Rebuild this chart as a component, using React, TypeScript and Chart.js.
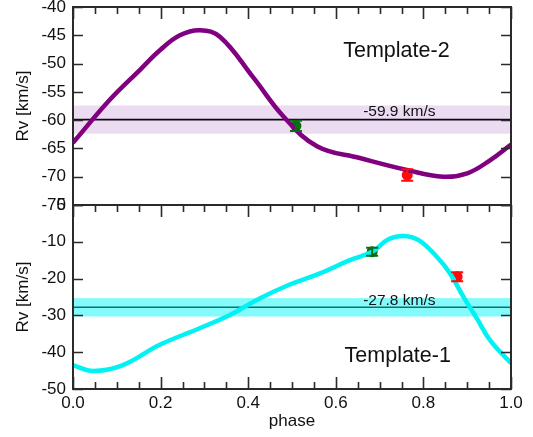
import { useEffect, useRef } from "react";
import { Chart, registerables } from "chart.js";

Chart.register(...registerables);

// Template-2 radial-velocity curve (upper panel)
const phaseT2 = [0, 0.084, 0.153, 0.199, 0.244, 0.29, 0.336, 0.411, 0.48, 0.557, 0.655, 0.762, 0.845, 0.9, 0.952, 1.0];
const rvT2 = [-64.0, -56.4, -51.1, -47.6, -45.0, -44.1, -45.3, -52.4, -59.3, -64.6, -66.7, -68.8, -70.0, -69.4, -67.1, -64.3];

// Template-1 radial-velocity curve (lower panel)
const phaseT1 = [0, 0.046, 0.114, 0.198, 0.289, 0.358, 0.426, 0.495, 0.564, 0.632, 0.683, 0.72, 0.755, 0.79, 0.83, 0.861, 0.891, 0.922, 0.952, 1.0];
const rvT1 = [-43.5, -45.1, -43.5, -38.0, -33.5, -29.9, -25.4, -21.6, -18.6, -15.0, -12.7, -9.3, -8.4, -9.6, -14.0, -18.6, -24.9, -30.8, -36.7, -43.0];

// Measured velocities with their uncertainties
const obsPhaseT2 = [0.509, 0.763];
const obsRvT2 = [-61.0, -69.7];
const obsErrT2 = [0.9, 1.0];
const obsPhaseT1 = [0.683, 0.877];
const obsRvT1 = [-12.7, -19.5];
const obsErrT1 = [1.1, 1.2];
const obsColors = ["#0c6e12", "#ff0a0a"];

// Systemic velocity and its spread for each template
const systemicRv = [-59.9, -27.8];
const systemicSpread = [2.5, 2.5];

const templateNames = ["Template-2", "Template-1"];

// Axis ticks
const phaseTicks = [0, 0.2, 0.4, 0.6, 0.8, 1.0];
const phaseMinorTicks = [0.05, 0.1, 0.15, 0.25, 0.3, 0.35, 0.45, 0.5, 0.55, 0.65, 0.7, 0.75, 0.85, 0.9, 0.95];
const rvTicksT2 = [-75, -70, -65, -60, -55, -50, -45, -40];
const rvTicksT1 = [-50, -40, -30, -20, -10, 0];

const FONT = '"Liberation Sans", Arial, Helvetica, sans-serif';
const INK = "#111111";
const FRAME = "#2a2a2a";

type Panel = {
  phase: number[];
  rv: number[];
  color: string;
  obsPhase: number[];
  obsRv: number[];
  obsErr: number[];
  mean: number;
  spread: number;
  bandColor: string;
  name: string;
  nameAt: [number, number];
  labelLift: number;
  yMin: number;
  yMax: number;
  yTicks: number[];
  showX: boolean;
  bottomTicks: boolean;
  pad: { top: number; bottom: number };
};

function decorPlugin(p: Panel) {
  return {
    id: "panelDecor",
    beforeDatasetsDraw(chart: any) {
      const { ctx, chartArea: a, scales } = chart;
      const x = scales.x;
      const y = scales.y;
      ctx.save();
      ctx.beginPath();
      ctx.rect(a.left, a.top, a.right - a.left, a.bottom - a.top);
      ctx.clip();
      const ym = y.getPixelForValue(p.mean);
      ctx.strokeStyle = "#000";
      ctx.lineWidth = 1.6;
      ctx.beginPath();
      ctx.moveTo(a.left, ym);
      ctx.lineTo(a.right, ym);
      ctx.stroke();
      const y1 = y.getPixelForValue(p.mean + p.spread);
      const y2 = y.getPixelForValue(p.mean - p.spread);
      ctx.fillStyle = p.bandColor;
      ctx.fillRect(a.left, y1, a.right - a.left, y2 - y1);
      ctx.fillStyle = INK;
      ctx.font = `15.5px ${FONT}`;
      ctx.textAlign = "center";
      ctx.textBaseline = "alphabetic";
      ctx.fillText(`${p.mean.toFixed(1)} km/s`, x.getPixelForValue(0.745), ym - p.labelLift);
      ctx.font = `21.5px ${FONT}`;
      ctx.textAlign = "left";
      ctx.fillText(p.name, x.getPixelForValue(p.nameAt[0]), y.getPixelForValue(p.nameAt[1]));
      ctx.restore();
    },
    afterDatasetsDraw(chart: any) {
      const { ctx, scales } = chart;
      const x = scales.x;
      const y = scales.y;
      ctx.save();
      ctx.lineWidth = 2;
      p.obsPhase.forEach((ph, i) => {
        const px = x.getPixelForValue(ph);
        const hi = y.getPixelForValue(p.obsRv[i] + p.obsErr[i]);
        const lo = y.getPixelForValue(p.obsRv[i] - p.obsErr[i]);
        ctx.strokeStyle = obsColors[i];
        ctx.beginPath();
        ctx.moveTo(px, hi);
        ctx.lineTo(px, lo);
        ctx.moveTo(px - 6, hi);
        ctx.lineTo(px + 6, hi);
        ctx.moveTo(px - 6, lo);
        ctx.lineTo(px + 6, lo);
        ctx.stroke();
      });
      ctx.restore();
    },
    afterDraw(chart: any) {
      const { ctx, chartArea: a, scales } = chart;
      const x = scales.x;
      const y = scales.y;
      ctx.save();
      ctx.strokeStyle = FRAME;
      ctx.lineWidth = 2;
      ctx.strokeRect(a.left, a.top, a.right - a.left, a.bottom - a.top);
      ctx.lineWidth = 1.6;
      ctx.beginPath();
      const xTick = (v: number, len: number) => {
        const px = Math.round(x.getPixelForValue(v)) + 0.5;
        ctx.moveTo(px, a.top);
        ctx.lineTo(px, a.top + len);
        if (p.bottomTicks) {
          ctx.moveTo(px, a.bottom);
          ctx.lineTo(px, a.bottom - len);
        }
      };
      phaseTicks.forEach((v) => xTick(v, 12));
      phaseMinorTicks.forEach((v) => xTick(v, 7));
      p.yTicks.forEach((v) => {
        const py = Math.round(y.getPixelForValue(v)) + 0.5;
        ctx.moveTo(a.left, py);
        ctx.lineTo(a.left + 10, py);
        ctx.moveTo(a.right, py);
        ctx.lineTo(a.right - 10, py);
      });
      ctx.stroke();
      ctx.restore();
    },
  };
}

function makeConfig(p: Panel): any {
  return {
    type: "scatter",
    data: {
      datasets: [
        {
          type: "line",
          data: p.phase.map((ph, i) => ({ x: ph, y: p.rv[i] })),
          borderColor: p.color,
          borderWidth: 4.5,
          pointRadius: 0,
          tension: 0.4,
          fill: false,
        },
        {
          type: "scatter",
          data: p.obsPhase.map((ph, i) => ({ x: ph, y: p.obsRv[i] })),
          pointRadius: 5.5,
          pointBackgroundColor: obsColors,
          pointBorderWidth: 0,
          showLine: false,
        },
      ],
    },
    options: {
      responsive: false,
      animation: false,
      events: [],
      layout: { padding: { top: p.pad.top, right: 22, bottom: p.pad.bottom, left: 0 } },
      plugins: { legend: { display: false }, tooltip: { enabled: false } },
      scales: {
        x: {
          type: "linear",
          min: 0,
          max: 1,
          display: p.showX,
          afterBuildTicks: (s: any) => {
            s.ticks = phaseTicks.map((v) => ({ value: v }));
          },
          afterFit: (s: any) => {
            if (p.showX) s.height = 48;
          },
          ticks: {
            font: { family: FONT, size: 17 },
            color: INK,
            padding: 4,
            maxRotation: 0,
            autoSkip: false,
            callback: (v: any) => Number(v).toFixed(1),
          },
          grid: { display: false, drawTicks: false },
          border: { display: false },
          title: {
            display: true,
            text: "phase",
            color: INK,
            font: { family: FONT, size: 17 },
            padding: { top: 0, bottom: 5 },
          },
        },
        y: {
          type: "linear",
          min: p.yMin,
          max: p.yMax,
          afterBuildTicks: (s: any) => {
            s.ticks = p.yTicks.map((v) => ({ value: v }));
          },
          afterFit: (s: any) => {
            s.width = 73;
          },
          ticks: {
            font: { family: FONT, size: 17 },
            color: INK,
            padding: 7,
            autoSkip: false,
          },
          grid: { display: false, drawTicks: false },
          border: { display: false },
          title: {
            display: true,
            text: "Rv [km/s]",
            color: INK,
            font: { family: FONT, size: 17 },
            padding: { top: 13, bottom: 0 },
          },
        },
      },
    },
    plugins: [decorPlugin(p)],
  };
}

const upper: Panel = {
  phase: phaseT2,
  rv: rvT2,
  color: "#800080",
  obsPhase: obsPhaseT2,
  obsRv: obsRvT2,
  obsErr: obsErrT2,
  mean: systemicRv[0],
  spread: systemicSpread[0],
  bandColor: "rgba(128,22,168,0.15)",
  name: templateNames[0],
  nameAt: [0.617, -48.8],
  labelLift: 3.5,
  yMin: -75,
  yMax: -40,
  yTicks: rvTicksT2,
  showX: false,
  bottomTicks: false,
  pad: { top: 20, bottom: 20 },
};

const lower: Panel = {
  phase: phaseT1,
  rv: rvT1,
  color: "#00f2f2",
  obsPhase: obsPhaseT1,
  obsRv: obsRvT1,
  obsErr: obsErrT1,
  mean: systemicRv[1],
  spread: systemicSpread[1],
  bandColor: "rgba(0,245,245,0.48)",
  name: templateNames[1],
  nameAt: [0.62, -42.7],
  labelLift: 2,
  yMin: -50,
  yMax: 0,
  yTicks: rvTicksT1,
  showX: true,
  bottomTicks: true,
  pad: { top: 25, bottom: 0 },
};

export default function App() {
  const topRef = useRef<HTMLCanvasElement>(null);
  const botRef = useRef<HTMLCanvasElement>(null);

  useEffect(() => {
    const a = new Chart(topRef.current as HTMLCanvasElement, makeConfig(upper));
    const b = new Chart(botRef.current as HTMLCanvasElement, makeConfig(lower));
    return () => {
      a.destroy();
      b.destroy();
    };
  }, []);

  return (
    <div style={{ position: "fixed", left: 0, top: 0, width: 533, height: 437, overflow: "hidden", background: "#fff" }}>
      <canvas
        ref={topRef}
        width={533}
        height={238}
        style={{ position: "absolute", left: 0, top: -13, width: 533, height: 238 }}
      />
      <canvas
        ref={botRef}
        width={533}
        height={257}
        style={{ position: "absolute", left: 0, top: 180, width: 533, height: 257 }}
      />
    </div>
  );
}
